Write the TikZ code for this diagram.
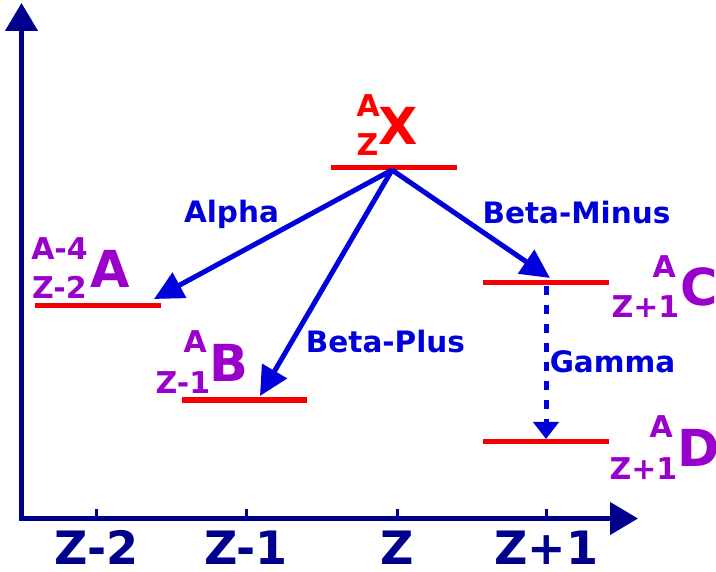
\documentclass[tikz,border=0pt]{standalone}
\usepackage{fontspec}
\setmainfont{DejaVu Sans}
\usetikzlibrary{arrows.meta}

\definecolor{axisblue}{RGB}{0,0,140}
\definecolor{decayblue}{RGB}{0,0,220}
\definecolor{levelred}{RGB}{245,0,0}
\definecolor{nucpurple}{RGB}{153,0,204}

\begin{document}
\begin{tikzpicture}[x=1pt,y=-1pt,
  lbl/.style={text=decayblue,inner sep=0pt,anchor=base,
    font=\fontsize{29.5}{34}\selectfont\bfseries},
  sym/.style={inner sep=0pt,anchor=base west,
    font=\fontsize{51}{58}\selectfont\bfseries},
  idx/.style={inner sep=0pt,anchor=base east,
    font=\fontsize{30}{34}\selectfont\bfseries},
  axlbl/.style={text=axisblue,inner sep=0pt,anchor=base,
    font=\fontsize{46}{52}\selectfont\bfseries},
  level/.style={draw=levelred,line width=5.5pt},
  decay/.style={draw=decayblue,line width=5pt,
    -{Triangle[length=29pt,width=28pt]}},
  ax/.style={draw=axisblue,line width=4.5pt,
    -{Triangle[length=28pt,width=32pt]}},
  tick/.style={draw=axisblue,line width=3pt},
]

\useasboundingbox (0,0) rectangle (716,572);

\def\axY{518.5}
\def\tickH{10}

% ------------------------------------------------------------------
% Axes
% ------------------------------------------------------------------
\coordinate (corner) at (21.5,\axY+2.2);
\coordinate (yTop) at (21.5,3);
\coordinate (xStart) at (19.3,\axY);
\coordinate (xEnd) at (638,\axY);
\draw[ax] (corner) -- (yTop);
\draw[ax] (xStart) -- (xEnd);

\foreach \x/\t [count=\i] in {96.5/Z-2,246/Z-1,397/Z,546.5/Z+1}{
  \coordinate (tk\i) at (\x,\axY);
  \draw[tick] (tk\i) -- ++(0,-\tickH);
  \node[axlbl] (zl\i) at (\x,565) {\t};
}

% ------------------------------------------------------------------
% Energy levels
% ------------------------------------------------------------------
\draw[level] (331,167.5) -- (457,167.5);   % X
\draw[level] (35,305.5) -- (161,305.5);    % A
\draw[level] (182,400) -- (307,400);       % B
\draw[level] (483,282.5) -- (609,282.5);   % C
\draw[level] (483,441.5) -- (609,441.5);   % D

% ------------------------------------------------------------------
% Nuclide symbols
% ------------------------------------------------------------------
\node[sym,text=red] (symX) at (378.5,145) {X};
\node[idx,text=red] (supX) at (380,117) {A};
\node[idx,text=red] (subX) at (378.5,156) {Z};

\node[sym,text=nucpurple] (symA) at (90,288) {A};
\node[idx,text=nucpurple] (supA) at (88,260) {A-4};
\node[idx,text=nucpurple] (subA) at (87,299) {Z-2};

\node[sym,text=nucpurple] (symB) at (209,382) {B};
\node[idx,text=nucpurple] (supB) at (207,353) {A};
\node[idx,text=nucpurple] (subB) at (210.5,394) {Z-1};

\node[sym,text=nucpurple] (symC) at (680,306) {C};
\node[idx,text=nucpurple] (supC) at (676,278) {A};
\node[idx,text=nucpurple] (subC) at (679.5,318) {Z+1};

\node[sym,text=nucpurple] (symD) at (677,467) {D};
\node[idx,text=nucpurple] (supD) at (673,438) {A};
\node[idx,text=nucpurple] (subD) at (677.5,479) {Z+1};

% ------------------------------------------------------------------
% Decays
% ------------------------------------------------------------------
\coordinate (src) at (392,170);
\coordinate (toA) at (154,299);
\coordinate (toB) at (260,396);
\coordinate (toC) at (550,278);
\coordinate (gamFrom) at (546,286);
\coordinate (gamTo) at (546,439);

\draw[decay] (src) -- (toA);
\draw[decay] (src) -- (toB);
\draw[decay] (src) -- (toC);
\draw[decay,dash pattern=on 9pt off 10pt,
  -{Triangle[length=17pt,width=25pt]}] (gamFrom) -- (gamTo);

\node[lbl] (alpha) at (231.5,223) {Alpha};
\node[lbl] (betaMinus) at (576.5,224) {Beta-Minus};
\node[lbl] (betaPlus) at (385.5,353) {Beta-Plus};
\node[lbl] (gamma) at (612.5,373) {Gamma};

\end{tikzpicture}
\end{document}
